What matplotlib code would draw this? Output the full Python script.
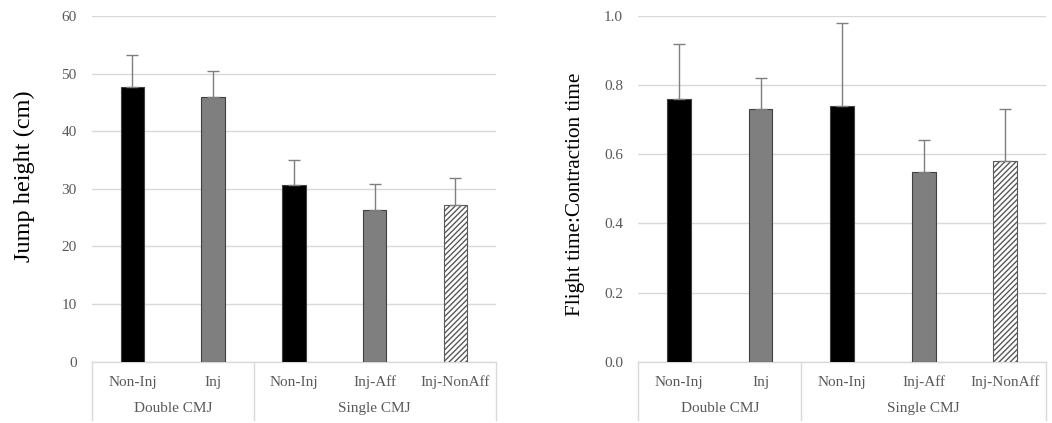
import numpy as np
import matplotlib.pyplot as plt

plt.rcParams['font.family'] = ['Liberation Serif', 'DejaVu Serif']

labels = ["Non-Inj", "Inj", "Non-Inj", "Inj-Aff", "Inj-NonAff"]
groups = ["Double CMJ", "Single CMJ"]
group_pos = [0.5, 3.0]

jump = [47.7, 46.0, 30.7, 26.3, 27.2]
jump_sd = [5.5, 4.5, 4.3, 4.6, 4.7]

ratio = [0.76, 0.73, 0.74, 0.55, 0.58]
ratio_sd = [0.16, 0.09, 0.24, 0.09, 0.15]

fills = ["#000000", "#7f7f7f", "#000000", "#7f7f7f", "#ffffff"]
hatches = [None, None, None, None, "//////"]
txt = "#595959"
grid_c = "#d9d9d9"


def draw(ax, vals, sd, ymax, step, fmt, ylabel, lsize, lpad, ly):
    x = np.arange(len(vals))
    bars = ax.bar(x, vals, width=0.29, color=fills, edgecolor="#404040",
                  linewidth=0.8, zorder=3)
    for b, h in zip(bars, hatches):
        if h:
            b.set_hatch(h)
            b.set_edgecolor("#595959")
    ax.errorbar(x, vals, yerr=[np.zeros(len(vals)), sd], fmt="none",
                ecolor="#7f7f7f", elinewidth=1, capsize=4, capthick=1, zorder=4)
    ax.set_xlim(-0.5, len(vals) - 0.5)
    ax.set_ylim(0, ymax)
    ax.set_yticks(np.arange(0, ymax + step / 2, step))
    ax.yaxis.set_major_formatter(plt.FormatStrFormatter(fmt))
    ax.grid(axis="y", color=grid_c, linewidth=1, zorder=0)
    for s in ["top", "right", "left"]:
        ax.spines[s].set_visible(False)
    ax.spines["bottom"].set_color(grid_c)
    ax.spines["bottom"].set_linewidth(1)
    ax.tick_params(axis="y", length=0, pad=11, labelsize=11, labelcolor=txt)
    ax.tick_params(axis="x", length=0, pad=10, labelsize=11, labelcolor=txt)
    ax.set_xticks(x)
    ax.set_xticklabels(labels)
    tr = ax.get_xaxis_transform()
    for xs in [-0.5, 1.5, len(vals) - 0.5]:
        ax.plot([xs, xs], [0, -0.17], transform=tr, color=grid_c,
                linewidth=1, clip_on=False)
    for g, gp in zip(groups, group_pos):
        ax.text(gp, -0.136, g, transform=tr, ha="center", va="center",
                fontsize=11, color=txt)
    ax.set_ylabel(ylabel, fontsize=lsize, color="#000000", labelpad=lpad)
    ax.yaxis.label.set_y(ly)


fig = plt.figure(figsize=(10.52, 4.23), dpi=100)
ax1 = fig.add_axes([0.0875, 0.145, 0.3837, 0.817])
ax2 = fig.add_axes([0.6068, 0.145, 0.3875, 0.817])

draw(ax1, jump, jump_sd, 60, 10, "%d", "Jump height (cm)", 17.5, 19, 0.537)
draw(ax2, ratio, ratio_sd, 1.0, 0.2, "%.1f", "Flight time:Contraction time", 15.3, 14, 0.484)

fig.savefig("out.png", dpi=100)
